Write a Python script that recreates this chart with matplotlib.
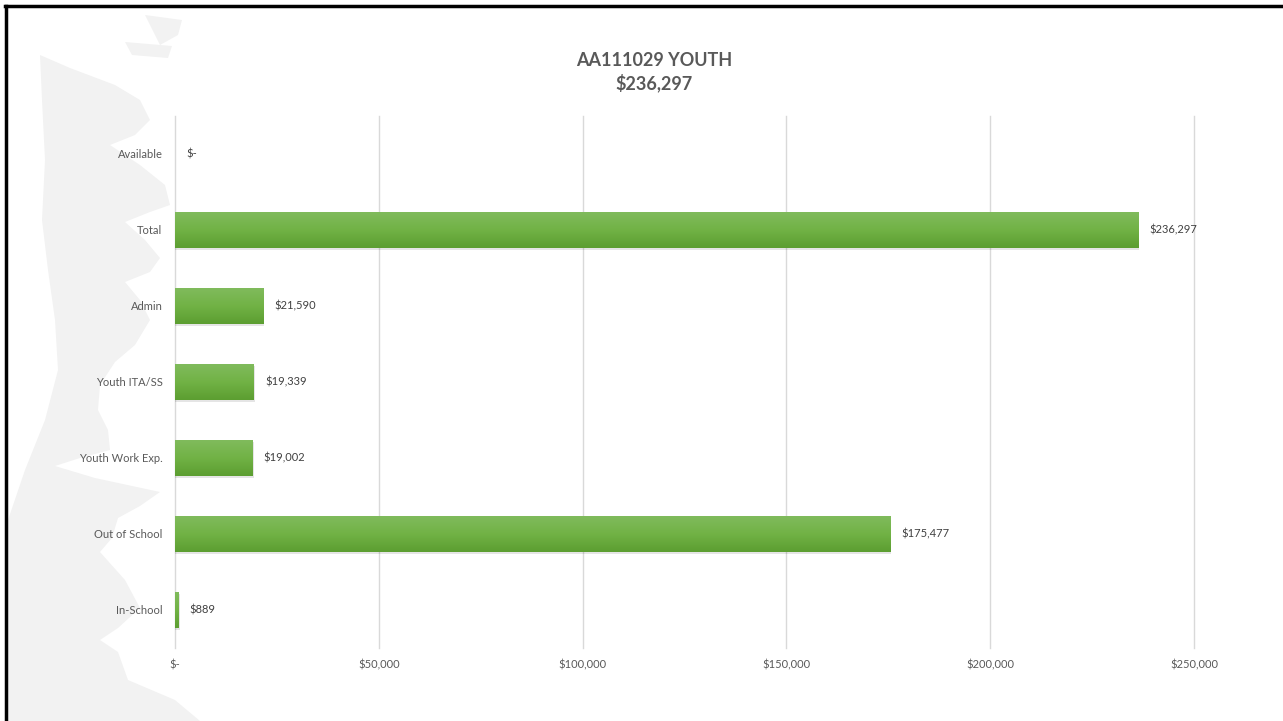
import matplotlib
matplotlib.use("Agg")
import matplotlib.pyplot as plt
import numpy as np
from matplotlib.patches import Polygon, Rectangle
from matplotlib.colors import LinearSegmentedColormap

# Budget lines (bottom to top as drawn)
categories = ["In-School", "Out of School", "Youth Work Exp.", "Youth ITA/SS",
              "Admin", "Total", "Available"]
amounts = [889, 175477, 19002, 19339, 21590, 236297, 0]
value_labels = ["$889", "$175,477", "$19,002", "$19,339", "$21,590", "$236,297", "$-"]
x_ticks = [0, 50000, 100000, 150000, 200000, 250000]
x_tick_labels = ["$-", "$50,000", "$100,000", "$150,000", "$200,000", "$250,000"]
title_lines = ["AA111029 YOUTH", "$236,297"]

W, H = 1283, 721
plt.rcParams["font.family"] = ["Lato", "DejaVu Sans"]
fig = plt.figure(figsize=(W / 100, H / 100), dpi=100)
fig.patch.set_facecolor("white")

# Decorative light-grey brush shape along the left edge (pixel coords, y down)
def px(pts):
    return [(x / W, 1 - y / H) for x, y in pts]

brush = [(40, 55), (70, 68), (115, 85), (140, 100), (150, 120), (135, 135), (110, 145),
         (140, 165), (165, 185), (170, 205), (150, 212), (125, 222), (145, 240),
         (160, 258), (150, 272), (125, 282), (140, 300), (150, 320), (135, 345),
         (115, 362), (100, 385), (98, 410), (108, 430), (110, 450), (80, 458),
         (55, 466), (95, 478), (160, 492), (140, 506), (118, 518), (112, 538),
         (100, 552), (125, 580), (140, 608), (118, 628), (100, 640), (118, 652),
         (128, 680), (175, 700), (200, 721), (8, 721), (8, 520), (25, 470),
         (45, 420), (58, 370), (55, 320), (48, 270), (42, 220), (45, 160), (42, 100)]
streaks = [
    [(145, 15), (182, 20), (178, 35), (160, 45)],
    [(125, 42), (172, 46), (168, 58), (132, 55)],
]
for shape in [brush] + streaks:
    fig.patches.append(Polygon(px(shape), closed=True, transform=fig.transFigure,
                               facecolor="#f2f2f2", edgecolor="none", zorder=-10))

# Black frame on the left and top edges
fig.add_artist(plt.Line2D([6 / W, 6 / W], [0, 1 - 6 / H], transform=fig.transFigure,
                          color="black", lw=2.5, zorder=-5))
fig.add_artist(plt.Line2D([5 / W, 1], [1 - 6 / H, 1 - 6 / H], transform=fig.transFigure,
                          color="black", lw=2.5, zorder=-5))

ax = fig.add_axes([175 / W, 1 - 648 / H, (1194 - 175) / W, (648 - 116) / H])
ax.patch.set_alpha(0)

y = np.arange(len(categories))
bar_h = 0.47

# Soft shadow then gradient-filled bars
grad = np.linspace(0, 1, 64).reshape(-1, 1)
cmap = LinearSegmentedColormap.from_list("g", ["#5c9e31", "#71b245", "#80bb5c"])
for yi, v in zip(y, amounts):
    if v <= 0:
        continue
    ax.add_patch(Rectangle((0, yi - bar_h / 2 - 0.025), v + 300, bar_h,
                           facecolor="#000000", alpha=0.10, edgecolor="none", zorder=2))
    bars = ax.barh(yi, v, height=bar_h, color="none", edgecolor="none", zorder=3)
    im = ax.imshow(grad, cmap=cmap, aspect="auto", origin="lower",
                   extent=(0, v, yi - bar_h / 2, yi + bar_h / 2), zorder=3)
    im.set_clip_path(bars[0])

ax.set_xlim(0, 250000)
ax.set_ylim(-0.5, len(categories) - 0.5)

for yi, v, lab in zip(y, amounts, value_labels):
    ax.annotate(lab, (v, yi), xytext=(8, 0), textcoords="offset points",
                va="center", ha="left", fontsize=8, color="#404040")

ax.set_yticks(y)
ax.set_yticklabels(categories, fontsize=8, color="#595959")
ax.set_xticks(x_ticks)
ax.set_xticklabels(x_tick_labels, fontsize=8, color="#595959")
ax.tick_params(axis="both", length=0)
ax.tick_params(axis="y", pad=9)
ax.tick_params(axis="x", pad=8)
ax.grid(axis="x", color="#d9d9d9", lw=1)
ax.set_axisbelow(True)
for gl in ax.get_xgridlines():
    gl.set_clip_on(False)
for s in ax.spines.values():
    s.set_visible(False)

fig.text(654 / W, 1 - 60 / H, title_lines[0], ha="center", va="center",
         fontsize=13, fontweight="bold", color="#595959")
fig.text(654 / W, 1 - 83 / H, title_lines[1], ha="center", va="center",
         fontsize=13, fontweight="bold", color="#595959")

fig.savefig("out.png", dpi=100, facecolor="white")
